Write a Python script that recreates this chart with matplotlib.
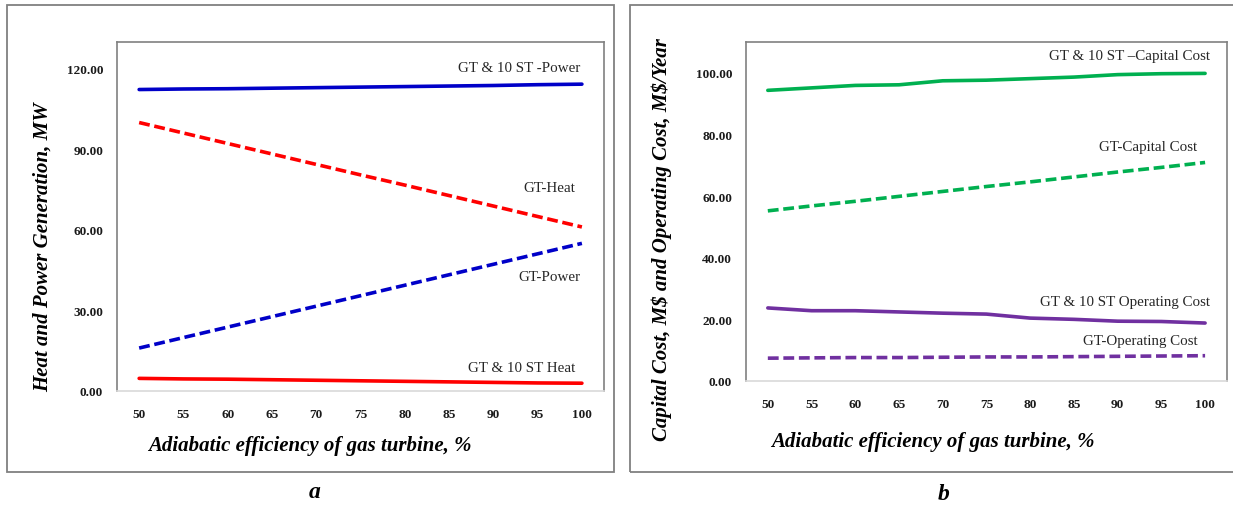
"""Two-panel Excel-style line chart: heat/power output and costs vs gas turbine efficiency."""

import matplotlib

matplotlib.use("Agg")
import matplotlib.pyplot as plt
from matplotlib.patches import Rectangle

# shared x axis: adiabatic efficiency of gas turbine (%)
efficiency = [50, 55, 60, 65, 70, 75, 80, 85, 90, 95, 100]

# panel a: heat and power generation, MW
gt_st_power = [112.3, 112.5, 112.6, 112.8, 113.0, 113.2, 113.4, 113.6, 113.8, 114.1, 114.3]
gt_heat = [100.0, 96.1, 92.2, 88.3, 84.4, 80.5, 76.7, 72.8, 68.9, 65.0, 61.1]
gt_power = [16.0, 19.9, 23.8, 27.7, 31.6, 35.5, 39.4, 43.3, 47.2, 51.1, 55.0]
gt_st_heat = [4.7, 4.5, 4.4, 4.2, 4.0, 3.8, 3.6, 3.4, 3.2, 3.0, 2.9]
ticks_a = [0, 30, 60, 90, 120]

# panel b: capital cost (M$) and operating cost (M$/year)
gt_st_capital = [94.3, 95.1, 95.9, 96.1, 97.4, 97.6, 98.1, 98.6, 99.4, 99.7, 99.8]
gt_capital = [55.2, 56.8, 58.3, 59.9, 61.5, 63.1, 64.6, 66.2, 67.8, 69.3, 70.9]
gt_st_operating = [23.7, 22.8, 22.8, 22.4, 22.0, 21.7, 20.4, 20.0, 19.4, 19.3, 18.8]
gt_operating = [7.4, 7.5, 7.6, 7.6, 7.7, 7.8, 7.8, 7.9, 8.0, 8.1, 8.2]
ticks_b = [0, 20, 40, 60, 80, 100]

BLUE = "#0000c8"
RED = "#ff0000"
GREEN = "#00b050"
PURPLE = "#7030a0"
FRAME = "#808080"
LW = 2.6
DASH = (3.0, 1.3)
SERIF = "Liberation Serif"

plt.rcParams.update({"font.family": SERIF, "font.size": 10})
fig = plt.figure(figsize=(12.33, 5.06), dpi=100, facecolor="white")

# outer panel frames (panel b runs off the right edge as in the source)
fig.patches.append(Rectangle((7 / 1233, 1 - 473 / 506), 607 / 1233, 467 / 506, transform=fig.transFigure,
                             fill=False, edgecolor=FRAME, linewidth=1.3))
fig.patches.append(Rectangle((630 / 1233, 1 - 473 / 506), 620 / 1233, 467 / 506, transform=fig.transFigure,
                             fill=False, edgecolor=FRAME, linewidth=1.3))

ax_a = fig.add_axes([0.0949, 0.2253, 0.3950, 0.6897])
ax_b = fig.add_axes([0.6050, 0.2451, 0.3901, 0.6700])

ax_a.plot(efficiency, gt_st_power, color=BLUE, linewidth=LW, solid_capstyle="round")
ax_a.plot(efficiency, gt_heat, color=RED, linewidth=LW, dashes=DASH)
ax_a.plot(efficiency, gt_power, color=BLUE, linewidth=LW, dashes=DASH)
ax_a.plot(efficiency, gt_st_heat, color=RED, linewidth=LW, solid_capstyle="round")
ax_a.set_ylim(0, 130)
ax_a.set_yticks(ticks_a, [f"{t:.2f}" for t in ticks_a])

for x, y, text in ((99.8, 120.4, "GT & 10 ST -Power"), (99.2, 75.7, "GT-Heat"),
                   (99.8, 42.5, "GT-Power"), (99.2, 8.6, "GT & 10 ST Heat")):
    ax_a.text(x, y, text, ha="right", va="center", fontsize=10.8, color="#262626")

ax_b.plot(efficiency, gt_st_capital, color=GREEN, linewidth=LW, solid_capstyle="round")
ax_b.plot(efficiency, gt_capital, color=GREEN, linewidth=LW, dashes=DASH)
ax_b.plot(efficiency, gt_st_operating, color=PURPLE, linewidth=LW, solid_capstyle="round")
ax_b.plot(efficiency, gt_operating, color=PURPLE, linewidth=LW, dashes=DASH)
ax_b.set_ylim(0, 110)
ax_b.set_yticks(ticks_b, [f"{t:.2f}" for t in ticks_b])

for x, y, text in ((100.6, 105.5, "GT & 10 ST \u2013Capital Cost"), (99.1, 76.2, "GT-Capital Cost"),
                   (100.6, 25.7, "GT & 10 ST Operating Cost"), (99.1, 13.0, "GT-Operating Cost")):
    ax_b.text(x, y, text, ha="right", va="center", fontsize=10.8, color="#262626")

for ax in (ax_a, ax_b):
    ax.set_xlim(47.5, 102.5)
    ax.set_xticks(efficiency)
    ax.tick_params(length=0, labelsize=9.5, colors="#1a1a1a")
    ax.tick_params(axis="x", pad=12)
    ax.tick_params(axis="y", pad=10)
    for label in ax.get_xticklabels() + ax.get_yticklabels():
        label.set_fontweight("bold")
    for side in ("top", "left", "right"):
        ax.spines[side].set_color(FRAME)
        ax.spines[side].set_linewidth(1.2)
    ax.spines["bottom"].set_color("#d9d9d9")
    ax.spines["bottom"].set_linewidth(1.2)

label_style = dict(fontsize=15, fontweight="bold", fontstyle="italic", color="black")
fig.text(43 / 1233, 1 - 247 / 506, "Heat and Power Generation, MW", rotation=90,
         ha="center", va="center", **label_style)
fig.text(310 / 1233, 1 - 446 / 506, "Adiabatic efficiency of gas turbine, %", ha="center", va="center", **label_style)
fig.text(662 / 1233, 1 - 240 / 506, "Capital Cost, M\\$ and Operating Cost, M\\$/Year", rotation=90,
         ha="center", va="center", **label_style)
fig.text(933 / 1233, 1 - 442 / 506, "Adiabatic efficiency of gas turbine, %", ha="center", va="center", **label_style)

fig.text(315 / 1233, 1 - 493 / 506, "a", ha="center", va="center", fontsize=17, fontweight="bold", fontstyle="italic")
fig.text(944 / 1233, 1 - 495 / 506, "b", ha="center", va="center", fontsize=17, fontweight="bold", fontstyle="italic")

fig.savefig("out.png", dpi=100, facecolor="white")
